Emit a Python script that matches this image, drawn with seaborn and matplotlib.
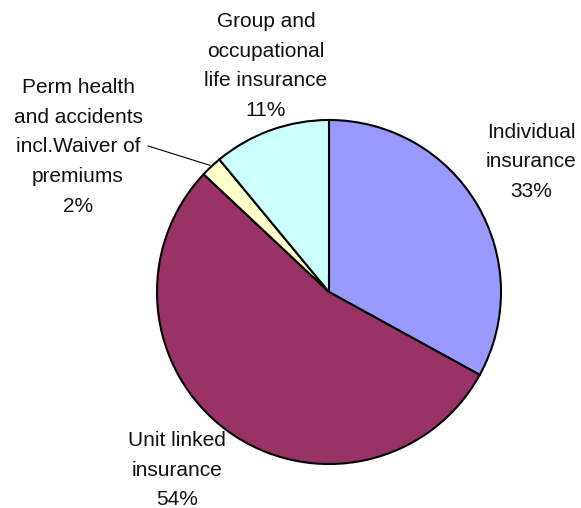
import numpy as np
import matplotlib
matplotlib.use("Agg")
import matplotlib.pyplot as plt
import seaborn as sns

# data
categories = ["Individual\ninsurance", "Unit linked\ninsurance",
              "Perm health\nand accidents\nincl.Waiver of\npremiums",
              "Group and\noccupational\nlife insurance"]
shares = [33, 54, 2, 11]
colors = ["#9999FF", "#993366", "#FFFFCC", "#CCFFFF"]

# label anchor points (in pie radius units)
label_pos = [(1.174, 0.756), (-0.884, -1.035), (-1.459, 0.843), (-0.366, 1.314)]

sns.set_style("white")
plt.rcParams["font.family"] = ["Liberation Sans", "DejaVu Sans"]

fig = plt.figure(figsize=(5.81, 5.08), dpi=100)
ax = fig.add_axes([0.2702, 0.0866, 0.5921, 0.6772])

wedges, _ = ax.pie(shares, colors=colors, startangle=90, counterclock=False,
                   wedgeprops={"edgecolor": "black", "linewidth": 1.5})
ax.set_xlim(-1, 1)
ax.set_ylim(-1, 1)
ax.set_aspect("auto")
ax.axis("off")

for lab, val, (x, y) in zip(categories, shares, label_pos):
    ax.text(x, y, f"{lab}\n{val}%", ha="center", va="center", fontsize=15,
            linespacing=1.72, color="#111111")

# leader line for the small slice
w = wedges[2]
mid = np.deg2rad((w.theta1 + w.theta2) / 2)
ax.plot([-1.052, np.cos(mid) * 1.01], [0.849, np.sin(mid) * 1.01],
        color="black", lw=0.8, clip_on=False)

fig.savefig("out.png", dpi=100)
